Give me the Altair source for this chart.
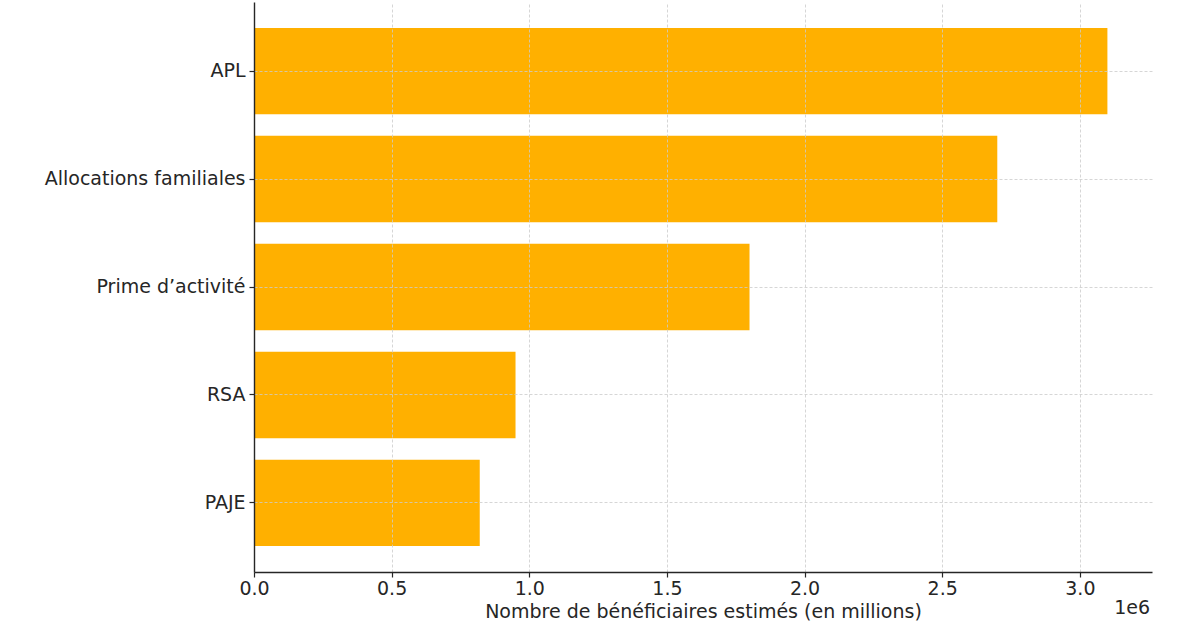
import altair as alt
import pandas as pd

categories = ["APL", "Allocations familiales", "Prime d\u2019activit\u00e9", "RSA", "PAJE"]
values = [3100000, 2700000, 1800000, 950000, 820000]
x_ticks = [0, 500000, 1000000, 1500000, 2000000, 2500000, 3000000]

df = pd.DataFrame({"cat": categories, "val": values})

FONT = "DejaVu Sans"
FS = 19
W, H = 898, 570

x_enc = alt.X(
    "val:Q",
    scale=alt.Scale(domain=[0, 3262000], nice=False, zero=True),
    axis=alt.Axis(
        values=x_ticks,
        labelExpr="format(datum.value/1e6, '.1f')",
        labelFlush=False,
        title="Nombre de b\u00e9n\u00e9ficiaires estim\u00e9s (en millions)",
        titleFontSize=FS, titleFont=FONT, titleFontWeight="normal", titleColor="#262626",
        titlePadding=4,
        labelFontSize=FS, labelFont=FONT, labelColor="#262626", labelPadding=2,
        tickSize=5, tickColor="#262626", tickWidth=1.2,
        domainColor="#262626", domainWidth=1.4,
        grid=True, gridColor="#cccccc", gridDash=[3, 2], gridWidth=0.8,
        zindex=1,
    ),
)
y_enc = alt.Y(
    "cat:N",
    sort=categories,
    scale=alt.Scale(paddingInner=0.2, paddingOuter=0.24),
    axis=alt.Axis(
        title=None,
        labelFontSize=FS, labelFont=FONT, labelColor="#262626", labelPadding=4,
        labelLimit=400,
        tickSize=5, tickColor="#262626", tickWidth=1.2,
        domainColor="#262626", domainWidth=1.4,
        grid=True, gridColor="#cccccc", gridDash=[3, 2], gridWidth=0.8,
        bandPosition=0.5,
        zindex=1,
    ),
)

bars = alt.Chart(df).mark_bar(color="#FFB000").encode(x=x_enc, y=y_enc)

offset = alt.Chart(pd.DataFrame({"t": ["1e6"]})).mark_text(
    align="right", baseline="middle", fontSize=FS, font=FONT, color="#262626"
).encode(text="t:N", x=alt.value(W - 2), y=alt.value(606))

chart = alt.layer(bars, offset).properties(
    width=W, height=H,
    background="white",
    autosize=alt.AutoSizeParams(type="none"),
    padding={"left": 254, "top": 2, "right": 48, "bottom": 60},
).configure_view(stroke="transparent", strokeWidth=0)

chart.save("out.html", embed_options={"renderer": "svg", "actions": False})
